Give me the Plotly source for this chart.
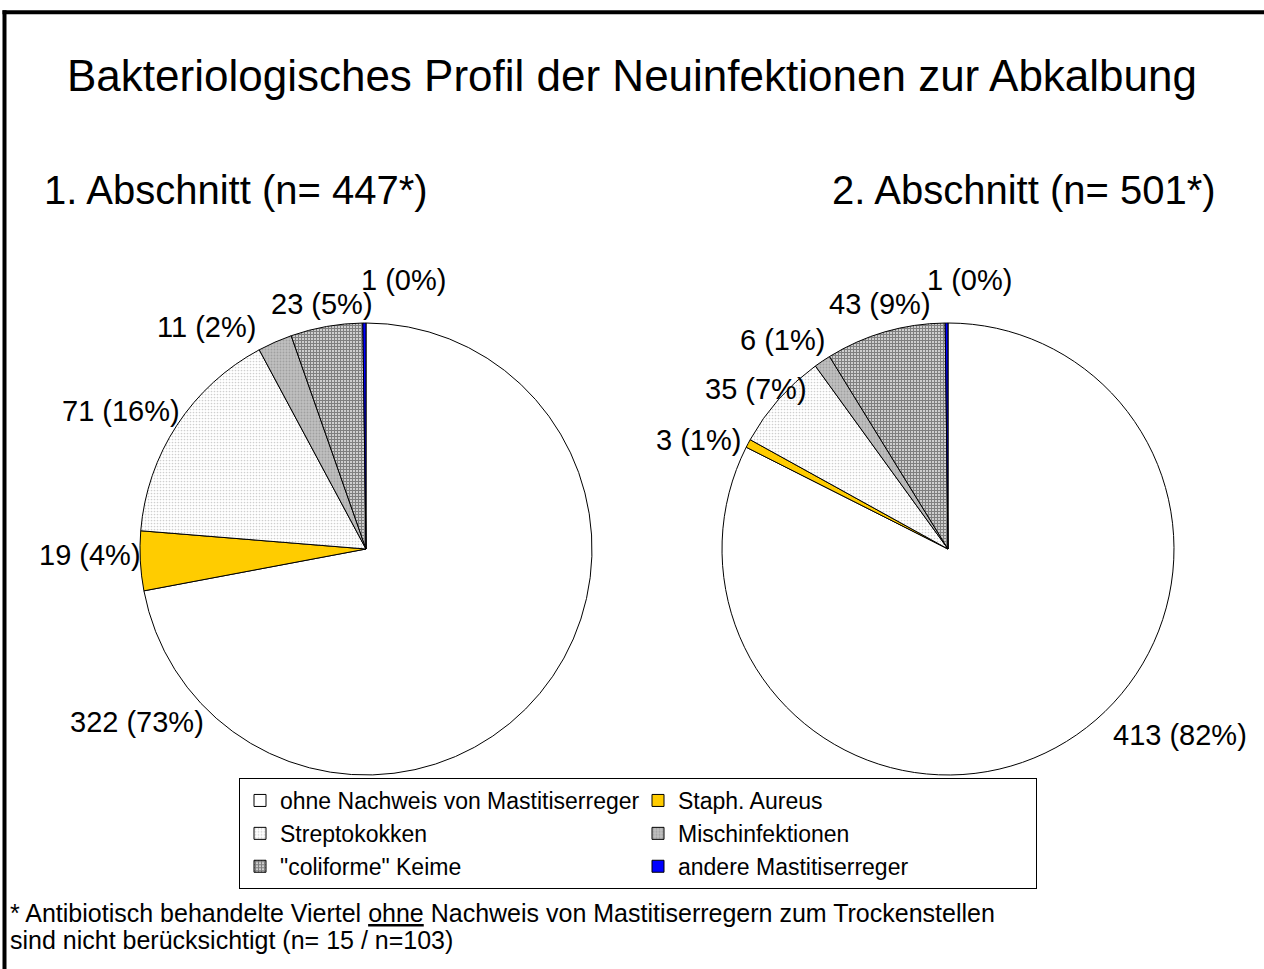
import plotly.graph_objects as go

# ---------------- data ----------------
categories = ["ohne Nachweis von Mastitiserreger", "Staph. Aureus", "Streptokokken",
              "Mischinfektionen", "\"coliforme\" Keime", "andere Mastitiserreger"]
values_1 = [322, 19, 71, 11, 23, 1]
values_2 = [413, 3, 35, 6, 43, 1]
pct_labels_1 = ["73%", "4%", "16%", "2%", "5%", "0%"]
pct_labels_2 = ["82%", "1%", "7%", "1%", "9%", "0%"]

title_text = "Bakteriologisches Profil der Neuinfektionen zur Abkalbung"
subtitle_1 = "1. Abschnitt (n= 447*)"
subtitle_2 = "2. Abschnitt (n= 501*)"
footnote_lines = ["* Antibiotisch behandelte Viertel <u>ohne</u> Nachweis von Mastitiserregern zum Trockenstellen",
                  "sind nicht berücksichtigt (n= 15 / n=103)"]

# ---------------- layout helpers ----------------
W, H = 1264, 969
ML, MR, MT, MB = 130, 80, 0, 0
PW, PH = W - ML - MR, H - MT - MB


def px(x):
    return (x - ML) / PW


def py(y):
    return 1 - (y - MT) / PH


FONT = "Arial, Liberation Sans, sans-serif"

# slice styles (per category)
colors = ["#FFFFFF", "#FFCC00", "#FFFFFF", "#C0C0C0", "#FFFFFF", "#0000FF"]
pattern = dict(
    shape=["", "", ".", ".", "+", ""],
    fgcolor=["#000000", "#000000", "#A0A0A0", "#808080", "#000000", "#000000"],
    size=[6, 6, 3, 3, 3, 6],
    solidity=[0.3, 0.3, 0.25, 0.3, 0.7, 0.3],
    fillmode="overlay",
)

# pie geometry in pixels (centre x, centre y, radius)
pies = [(366, 549, 226), (948, 549, 226)]

# label centres in pixels (as placed in the original chart)
label_pos_1 = [(137, 722), (90, 555), (121, 411), (206, 327), (322, 304), (403, 280)]
label_pos_2 = [(1180, 735), (698, 440), (756, 389), (782, 340), (880, 304), (969, 280)]

fig = go.Figure()
for i, (vals, (cx, cy, r)) in enumerate(zip([values_1, values_2], pies)):
    fig.add_trace(go.Pie(
        labels=categories,
        values=vals,
        sort=False,
        direction="clockwise",
        rotation=0,
        textinfo="none",
        hoverinfo="label+value+percent",
        marker=dict(colors=colors, line=dict(color="#000000", width=1), pattern=pattern),
        domain=dict(x=[px(cx - r), px(cx + r)], y=[py(cy + r), py(cy - r)]),
        showlegend=(i == 0),
    ))

annotations = []
for vals, pcts, poss in [(values_1, pct_labels_1, label_pos_1), (values_2, pct_labels_2, label_pos_2)]:
    for v, p, (lx, ly) in zip(vals, pcts, poss):
        annotations.append(dict(
            text=f"{v} ({p})", x=px(lx), y=py(ly), xref="paper", yref="paper",
            xanchor="center", yanchor="middle", showarrow=False,
            font=dict(family=FONT, size=29, color="#000000")))

annotations += [
    dict(text=title_text, x=px(632), y=py(76), xref="paper", yref="paper",
         xanchor="center", yanchor="middle", showarrow=False,
         font=dict(family=FONT, size=44, color="#000000")),
    dict(text=subtitle_1, x=px(42), y=py(190), xref="paper", yref="paper",
         xanchor="left", yanchor="middle", showarrow=False,
         font=dict(family=FONT, size=40, color="#000000")),
    dict(text=subtitle_2, x=px(1218), y=py(190), xref="paper", yref="paper",
         xanchor="right", yanchor="middle", showarrow=False,
         font=dict(family=FONT, size=40, color="#000000")),
]
for line, ly in zip(footnote_lines, [913, 940]):
    annotations.append(dict(
        text=line, x=px(8), y=py(ly), xref="paper", yref="paper",
        xanchor="left", yanchor="middle", align="left", showarrow=False,
        font=dict(family=FONT, size=25, color="#000000")))

# frame: thick top and left edges only
frame_shapes = [
    dict(type="line", xref="paper", yref="paper",
         x0=px(2.5), x1=px(W), y0=py(12.3), y1=py(12.3),
         line=dict(color="#000000", width=4)),
    dict(type="line", xref="paper", yref="paper",
         x0=px(4.5), x1=px(4.5), y0=py(10.3), y1=py(H),
         line=dict(color="#000000", width=4)),
]

fig.update_layout(
    width=W, height=H,
    margin=dict(l=ML, r=MR, t=MT, b=MB, pad=0),
    paper_bgcolor="#FFFFFF", plot_bgcolor="#FFFFFF",
    annotations=annotations,
    legend=dict(
        orientation="h", x=px(239), y=py(778), xanchor="left", yanchor="top",
        entrywidth=353, entrywidthmode="pixels",
        bordercolor="#000000", borderwidth=1, bgcolor="#FFFFFF",
        font=dict(family=FONT, size=23, color="#000000"),
        traceorder="normal",
    ),
    shapes=frame_shapes,
)

fig.write_html("out.html", config={"displayModeBar": False},
               post_script="document.body.style.margin='0';document.body.style.overflow='hidden';")
